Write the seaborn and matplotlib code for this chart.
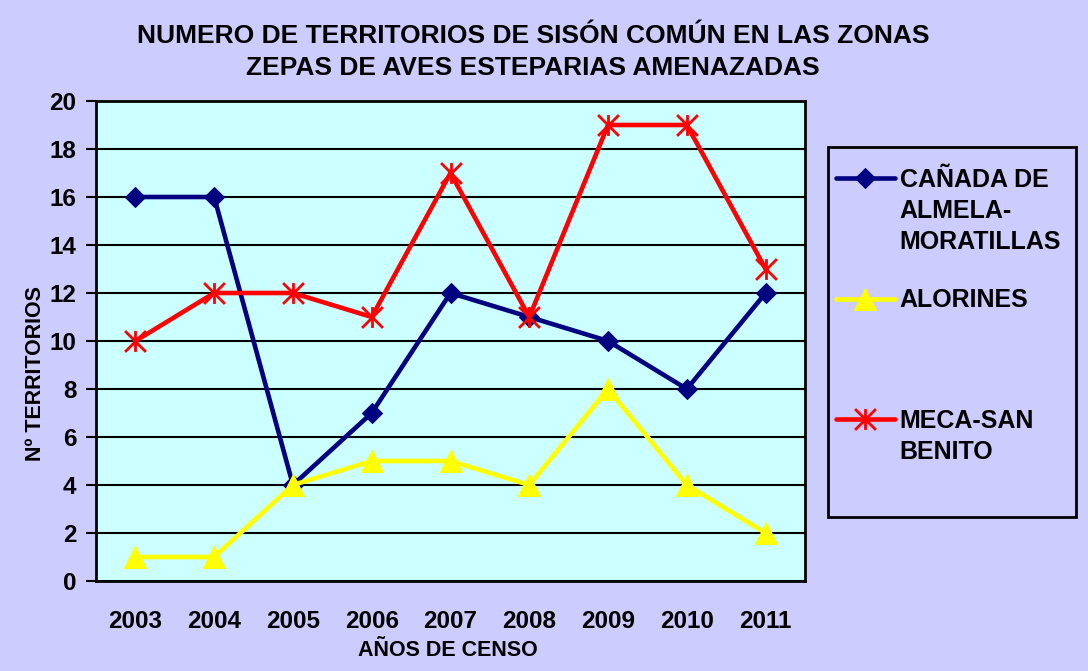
import matplotlib
matplotlib.use("Agg")
import matplotlib.pyplot as plt
import seaborn as sns
import pandas as pd
from matplotlib.path import Path
from matplotlib.patches import Rectangle

years = ["2003", "2004", "2005", "2006", "2007", "2008", "2009", "2010", "2011"]
canada = [16, 16, 4, 7, 12, 11, 10, 8, 12]
alorines = [1, 1, 4, 5, 5, 4, 8, 4, 2]
meca = [10, 12, 12, 11, 17, 11, 19, 19, 13]
series_names = ["CAÑADA DE\nALMELA-\nMORATILLAS", "ALORINES\n\n", "MECA-SAN\nBENITO\n"]
yticks = [0, 2, 4, 6, 8, 10, 12, 14, 16, 18, 20]

sns.set_style("white")
plt.rcParams['font.family'] = ['Liberation Sans', 'DejaVu Sans']
plt.rcParams['font.weight'] = 'bold'
for k in ["text.color", "axes.labelcolor", "xtick.color", "ytick.color"]:
    plt.rcParams[k] = "black"

fig = plt.figure(figsize=(10.88, 6.71), dpi=100, facecolor="#CCCCFF")
ax = fig.add_axes([96/1088, 1-581/671, (805-96)/1088, (581-101)/671])
ax.set_facecolor("#CCFFFF")

x = list(range(len(years)))
star = Path([(-1, -1), (1, 1), (-1, 1), (1, -1), (0, -1), (0, 1)],
            [Path.MOVETO, Path.LINETO, Path.MOVETO, Path.LINETO, Path.MOVETO, Path.LINETO])

df1 = pd.DataFrame({"x": x, "y": canada})
df2 = pd.DataFrame({"x": x, "y": alorines})
df3 = pd.DataFrame({"x": x, "y": meca})

sns.lineplot(data=df1, x="x", y="y", ax=ax, color="#000080", lw=3.3, marker="D",
             markersize=10.5, markeredgecolor="#000080", label=series_names[0], zorder=3)
sns.lineplot(data=df2, x="x", y="y", ax=ax, color="#FFFF00", lw=3.3, marker="^",
             markersize=16, markeredgecolor="#FFFF00", label=series_names[1], zorder=3)
sns.lineplot(data=df3, x="x", y="y", ax=ax, color="#FF0000", lw=3.3, marker=star,
             markersize=15, markeredgecolor="#FF0000", markeredgewidth=2,
             label=series_names[2], zorder=3)

ax.set_xlim(-0.5, len(years) - 0.5)
ax.set_ylim(0, 20)
ax.set_yticks(yticks)
ax.set_yticklabels([str(v) for v in yticks], fontsize=17.5, fontweight="bold")
ax.set_xticks(x)
ax.set_xticklabels(years, fontsize=17.5, fontweight="bold")
ax.set_xticks([i - 0.5 for i in range(len(years) + 1)], minor=True)
ax.tick_params(axis="x", which="major", length=0, pad=21)
ax.tick_params(axis="x", which="minor", length=7, width=1.5, direction="out", color="black")
ax.tick_params(axis="y", length=7, width=1.5, direction="out", color="black", left=True, pad=7)
ax.yaxis.grid(True, color="black", lw=1.5)
ax.xaxis.grid(False)
ax.set_axisbelow(True)
for s in ax.spines.values():
    s.set_visible(True)
    s.set_color("black")
    s.set_linewidth(2)

ax.set_xlabel("AÑOS DE CENSO", fontsize=15.5, fontweight="bold")
ax.set_ylabel("Nº TERRITORIOS", fontsize=15.5, fontweight="bold")
ax.xaxis.set_label_coords(0.496, -0.122)
ax.yaxis.set_label_coords(-0.071, 0.433)

fig.text(533/1088, 1-52/671, "NUMERO DE TERRITORIOS DE SISÓN COMÚN EN LAS ZONAS\nZEPAS DE AVES ESTEPARIAS AMENAZADAS",
         ha="center", va="center", fontsize=19, fontweight="bold", linespacing=1.45)

# legend frame
frame = Rectangle((828/1088, 1-517/671), (1076-828)/1088, (517-147)/671,
                  transform=fig.transFigure, facecolor="#CCCCFF", edgecolor="black",
                  lw=2, zorder=-1)
fig.patches.append(frame)

leg = ax.legend(loc="upper left", bbox_to_anchor=(836/1088, 1-500/671, (1072-836)/1088, (500-168)/671),
                bbox_transform=fig.transFigure, mode="expand", frameon=False,
                fontsize=18, labelspacing=1.36,
                handlelength=2.35, handleheight=1.1, handletextpad=0.2, borderpad=0,
                borderaxespad=0)
for t in leg.get_texts():
    t.set_fontweight("bold")
    t.set_linespacing(1.38)
for col in leg._legend_handle_box.get_children():
    for row in col.get_children():
        row.align = "top"

fig.savefig("out.png", dpi=100, facecolor=fig.get_facecolor())
